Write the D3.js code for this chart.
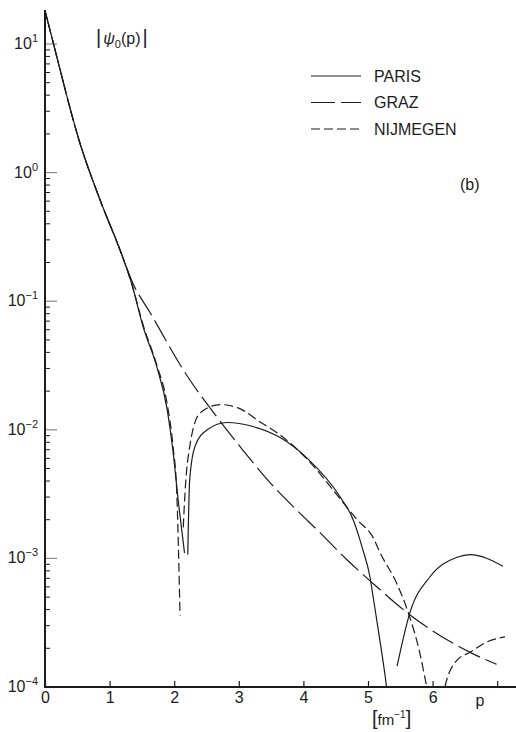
<!DOCTYPE html>
<html>
<head>
<meta charset="utf-8">
<script src="https://cdn.jsdelivr.net/npm/d3@7"></script>
<style>
  body { margin: 0; background: #fff; }
  svg { display: block; font-family: "Liberation Sans", Arial, sans-serif; }
</style>
</head>
<body>
<div id="chart"></div>
<script>
// momentum p [fm^-1] and |psi_0(p)|; null = break in the drawn line
const parisP = [0, 0.13, 0.54, 0.85, 1.16, 1.34, 1.52, 1.73, 1.89, 1.98, 2.07, 2.16, 2.18,
  2.21, 2.24, 2.32, 2.51, 2.82, 3.22, 3.64, 4.06, 4.57, 4.77, 4.92, 5.03, 5.08, 5.19, 5.28, 5.31, 5.38,
  5.45, 5.65, 5.96, 6.38, 6.58, 7.09];
const parisV = [18.2, 10.1, 1.70, 0.617, 0.251, 0.138, 6.3e-2, 3.1e-2, 1.45e-2, 6.9e-3, 2.6e-3, 1.1e-3, null,
  1.07e-3, 4.1e-3, 7.4e-3, 1.0e-2, 1.14e-2, 1.06e-2, 8.7e-3, 6.0e-3, 3.0e-3, 2.0e-3, 1.17e-3, 7.2e-4, 5.0e-4, 2.2e-4, 1.07e-4, 8e-5, null,
  1.45e-4, 3.8e-4, 7.2e-4, 1.02e-3, 1.07e-3, 8.7e-4];

const grazP = [0, 0.13, 0.54, 0.85, 1.16, 1.36, 1.63, 2.14, 2.24, 2.60, 3.02, 3.48, 3.87, 4.26, 4.67, 5.06, 5.63, 6.58, 6.99];
const grazV = [18.2, 10.1, 1.70, 0.617, 0.251, 0.138, 8.1e-2, 2.93e-2, 2.45e-2, 1.38e-2, 7.4e-3, 3.9e-3, 2.45e-3, 1.58e-3, 9.8e-4, 6.5e-4, 3.7e-4, 1.86e-4, 1.5e-4];

const nijP = [0, 0.13, 0.54, 0.85, 1.16, 1.34, 1.52, 1.73, 1.89, 1.98, 2.04, 2.09, 2.11,
  2.14, 2.17, 2.24, 2.40, 2.71, 2.99, 3.33, 3.59, 4.06, 4.57, 4.83, 5.08, 5.19, 5.45, 5.63, 5.80, 5.91, 5.95, 6.05,
  6.17, 6.19, 6.38, 6.58, 6.84, 7.12];
const nijV = [18.2, 10.1, 1.70, 0.617, 0.251, 0.138, 6.5e-2, 3.2e-2, 1.6e-2, 7.6e-3, 3.2e-3, 3.6e-4, null,
  1.74e-3, 3.4e-3, 7.4e-3, 1.35e-2, 1.57e-2, 1.48e-2, 1.15e-2, 9.5e-3, 5.9e-3, 2.9e-3, 2.0e-3, 1.45e-3, 1.1e-3, 6.3e-4, 3.7e-4, 1.86e-4, 1.0e-4, 8e-5, null,
  8e-5, 1.0e-4, 1.62e-4, 1.86e-4, 2.24e-4, 2.45e-4];

const seriesNames = ["PARIS", "GRAZ", "NIJMEGEN"];
const xTicks = [0, 1, 2, 3, 4, 5, 6, 7];
const xTickLabels = ["0", "1", "2", "3", "4", "5", "6", ""];
const yDecades = [-4, -3, -2, -1, 0, 1];

const W = 516, H = 732;
const ink = "#1c1c1c";

const svg = d3.select("#chart").append("svg")
  .attr("width", W).attr("height", H);

const x = d3.scaleLinear().domain([0, 7]).range([45, 497.2]);
const y = d3.scaleLog().domain([1e-4, 10]).range([687, 44]);
const yTop = 18.4;

// clip the curves to the frame
svg.append("defs").append("clipPath").attr("id", "plot")
  .append("rect").attr("x", 45).attr("y", 0).attr("width", W - 45).attr("height", y(1e-4) - 0.5);

// --- y axis: decades plus the 2..9 minor ticks, drawn inward
const minor = [];
yDecades.forEach(d => {
  if (d < 1) d3.range(2, 10).forEach(m => minor.push(m * Math.pow(10, d)));
});
const yAxis = svg.append("g").attr("transform", "translate(45,0)");
yAxis.selectAll("line.minor").data(minor.filter(v => v < yTop)).enter()
  .append("line").attr("class", "minor")
  .attr("x1", 0).attr("x2", 5)
  .attr("y1", d => y(d)).attr("y2", d => y(d))
  .attr("stroke", ink).attr("stroke-width", 1);
yAxis.selectAll("line.major").data(yDecades).enter()
  .append("line").attr("class", "major")
  .attr("x1", 0).attr("x2", 12)
  .attr("y1", d => y(Math.pow(10, d))).attr("y2", d => y(Math.pow(10, d)))
  .attr("stroke", "#8a8a8a").attr("stroke-width", 1.2);
yAxis.append("line")
  .attr("x1", 0).attr("x2", 0).attr("y1", y(yTop)).attr("y2", y(1e-4) + 1)
  .attr("stroke", ink).attr("stroke-width", 2);

const yLab = yAxis.selectAll("text").data(yDecades).enter().append("text")
  .attr("x", -7).attr("y", d => y(Math.pow(10, d)) + 5)
  .attr("text-anchor", "end").attr("fill", ink).style("font-size", "16px");
yLab.append("tspan").text("10");
yLab.append("tspan").attr("dy", -7).style("font-size", "11px")
  .text(d => d < 0 ? "\u2212" + (-d) : String(d));

// --- x axis
const xAxis = svg.append("g").attr("transform", `translate(0,${y(1e-4)})`)
  .call(d3.axisBottom(x).tickValues(xTicks).tickSizeInner(-6).tickSizeOuter(0).tickPadding(5)
    .tickFormat((d, i) => xTickLabels[i]));
xAxis.select(".domain").remove();
xAxis.append("line").attr("x1", 44).attr("x2", W).attr("stroke", ink).attr("stroke-width", 2);
xAxis.selectAll(".tick line").attr("stroke", ink).attr("stroke-width", 1.2);
xAxis.selectAll(".tick text").attr("fill", ink).style("font-size", "16px")
  .style("font-family", "'Liberation Sans', Arial, sans-serif");

svg.append("text").attr("x", 480).attr("y", 706).attr("text-anchor", "middle")
  .attr("fill", ink).style("font-size", "16px").text("p");
const unit = svg.append("text").attr("x", 372).attr("y", 725).attr("fill", ink).style("font-size", "15px");
unit.append("tspan").style("font-size", "20px").text("[");
unit.append("tspan").text("fm");
unit.append("tspan").attr("dy", -7).style("font-size", "10px").text("\u22121");
unit.append("tspan").attr("dy", 7).style("font-size", "20px").text("]");

// --- y title |psi_0(p)|
const title = svg.append("text").attr("x", 96).attr("y", 44).attr("fill", ink).style("font-size", "16px");
title.append("tspan").style("font-size", "20px").text("|");
title.append("tspan").attr("dx", 2).style("font-style", "italic").text("\u03c8");
title.append("tspan").attr("dy", 4).style("font-size", "11px").text("0");
title.append("tspan").attr("dy", -4).text("(p)");
title.append("tspan").attr("dx", 2).style("font-size", "20px").text("|");

// --- curves
const dashes = ["none", "24,6", "9,4"];
const series = [[parisP, parisV], [grazP, grazV], [nijP, nijV]].map(([ps, vs], k) => ({
  name: seriesNames[k],
  dash: dashes[k],
  pts: ps.map((p, i) => ({p: p, v: vs[i]}))
}));

const line = d3.line()
  .defined(d => d.v != null)
  .x(d => x(d.p))
  .y(d => y(d.v))
  .curve(d3.curveMonotoneX);

svg.append("g").attr("clip-path", "url(#plot)")
  .selectAll("path").data(series).enter().append("path")
  .attr("d", d => line(d.pts))
  .attr("fill", "none").attr("stroke", ink).attr("stroke-width", 1.2)
  .attr("stroke-dasharray", d => d.dash);

// --- legend
const leg = svg.append("g").selectAll("g").data(series).enter().append("g")
  .attr("transform", (d, i) => `translate(311,${76 + i * 26.5})`);
leg.append("line").attr("x1", 0).attr("x2", 50)
  .attr("stroke", ink).attr("stroke-width", 1.2)
  .attr("stroke-dasharray", d => d.dash);
leg.append("text").attr("x", 63).attr("y", 5.5).attr("fill", ink)
  .style("font-size", "16px").text(d => d.name);

svg.append("text").attr("x", 460).attr("y", 190).attr("fill", ink)
  .style("font-size", "16px").text("(b)");
</script>
</body>
</html>
